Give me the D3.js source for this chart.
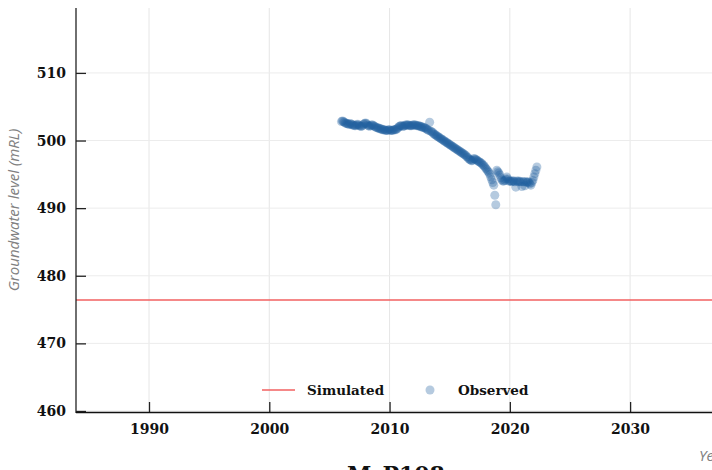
<!DOCTYPE html>
<html><head><meta charset="utf-8">
<script src="https://cdn.jsdelivr.net/npm/d3@7"></script>
<style>html,body{margin:0;padding:0;overflow:hidden;background:#fff}</style>
</head><body>
<script>
const xTicks = [1990, 2000, 2010, 2020, 2030];
const yTicks = [460, 470, 480, 490, 500, 510];
const simulatedLevel = 476.4;
const obsStartYear = 2006;
// monthly observed groundwater level (mRL), Jan 2006 ... Apr 2022
const obs2006 = [502.8, 502.9, 502.8, 502.7, 502.6, 502.5, 502.5, 502.4, 502.4, 502.5, 502.4, 502.3];
const obs2007 = [502.3, 502.2, 502.2, 502.3, 502.4, 502.3, 502.2, 502.1, 502.1, 502.2, 502.4, 502.5];
const obs2008 = [502.6, 502.5, 502.3, 502.2, 502.1, 502.2, 502.3, 502.3, 502.2, 502.1, 502.0, 501.9];
const obs2009 = [501.9, 501.8, 501.8, 501.7, 501.7, 501.6, 501.6, 501.6, 501.5, 501.5, 501.5, 501.6];
const obs2010 = [501.6, 501.5, 501.5, 501.5, 501.6, 501.6, 501.6, 501.7, 501.8, 502.0, 502.1, 502.2];
const obs2011 = [502.2, 502.1, 502.1, 502.2, 502.3, 502.3, 502.3, 502.3, 502.2, 502.2, 502.2, 502.3];
const obs2012 = [502.3, 502.3, 502.3, 502.2, 502.2, 502.2, 502.1, 502.1, 502.0, 502.0, 501.9, 501.9];
const obs2013 = [501.8, 501.7, 501.6, 501.5, 502.7, 501.4, 501.3, 501.2, 501.0, 500.9, 500.8, 500.7];
const obs2014 = [500.6, 500.5, 500.4, 500.3, 500.2, 500.1, 500.0, 499.9, 499.8, 499.7, 499.6, 499.5];
const obs2015 = [499.4, 499.3, 499.2, 499.1, 499.0, 498.9, 498.8, 498.7, 498.6, 498.5, 498.4, 498.3];
const obs2016 = [498.2, 498.1, 498.0, 497.9, 497.8, 497.6, 497.5, 497.3, 497.2, 497.1, 497.0, 497.1];
const obs2017 = [497.3, 497.3, 497.2, 497.1, 497.0, 496.9, 496.8, 496.7, 496.6, 496.4, 496.3, 496.1];
const obs2018 = [495.9, 495.7, 495.5, 495.3, 495.0, 494.6, 494.2, 493.8, 493.4, 491.9, 490.5, 495.6];
const obs2019 = [495.4, 495.2, 494.9, 494.5, 494.2, 494.0, 494.0, 494.1, 494.3, 494.6, 494.3, 494.0];
const obs2020 = [494.0, 494.0, 493.9, 494.0, 494.0, 493.9, 493.1, 494.0, 493.9, 494.0, 493.9, 493.9];
const obs2021 = [493.2, 493.9, 493.9, 493.3, 493.9, 493.8, 493.9, 493.8, 493.6, 493.4, 493.8, 494.1];
const obs2022 = [494.6, 495.1, 495.6, 496.1];
const obsYears = [obs2006, obs2007, obs2008, obs2009, obs2010, obs2011, obs2012, obs2013, obs2014, obs2015, obs2016, obs2017, obs2018, obs2019, obs2020, obs2021, obs2022];

const observed = [];
obsYears.forEach((arr, i) => arr.forEach((v, m) => observed.push({t: obsStartYear + i + m / 12, v})));

const W = 760, H = 500;
const svg = d3.select("body").append("svg").attr("width", W).attr("height", H);

const x = d3.scaleLinear().domain([1983.93, 2040.8]).range([76, 760]);
const y = d3.scaleLinear().domain([459.85, 519.6]).range([412, 8]);

const tickFont = "DejaVu Serif, serif";

// grid
svg.append("g").selectAll("line.vg").data(xTicks).join("line")
  .attr("x1", d => x(d)).attr("x2", d => x(d)).attr("y1", 8).attr("y2", 412)
  .attr("stroke", "#e6e6e6").attr("stroke-width", 1);
svg.append("g").selectAll("line.hg").data(yTicks).join("line")
  .attr("x1", 76).attr("x2", W).attr("y1", d => y(d)).attr("y2", d => y(d))
  .attr("stroke", "#ececec").attr("stroke-width", 1);

// simulated line
svg.append("line").attr("x1", 76).attr("x2", W)
  .attr("y1", y(simulatedLevel)).attr("y2", y(simulatedLevel))
  .attr("stroke", "#f26060").attr("stroke-width", 1.5);

// observed points
svg.append("g").selectAll("circle").data(observed).join("circle")
  .attr("cx", d => x(d.t)).attr("cy", d => y(d.v)).attr("r", 4.5)
  .attr("fill", "#1f5f9e").attr("fill-opacity", 0.33);

// axes
const xAxis = d3.axisBottom(x).tickValues(xTicks).tickFormat(d3.format("d")).tickSizeInner(-10).tickSizeOuter(0).tickPadding(12);
const gx = svg.append("g").attr("transform", "translate(0,412)").call(xAxis);
gx.select(".domain").remove();
gx.selectAll(".tick line").attr("stroke", "#222").attr("stroke-width", 1.3);
gx.selectAll("text").attr("font-family", tickFont).attr("font-weight", "bold").attr("font-size", 14).attr("fill", "#111");

const yAxis = d3.axisLeft(y).tickValues(yTicks).tickSizeInner(-10).tickSizeOuter(0).tickPadding(10);
const gy = svg.append("g").attr("transform", "translate(76,0)").call(yAxis);
gy.select(".domain").remove();
gy.selectAll(".tick line").attr("stroke", "#222").attr("stroke-width", 1.3);
gy.selectAll("text").attr("font-family", tickFont).attr("font-weight", "bold").attr("font-size", 14).attr("fill", "#111");

svg.append("line").attr("x1", 76).attr("x2", 76).attr("y1", 8).attr("y2", 413).attr("stroke", "#222").attr("stroke-width", 1.3);
svg.append("line").attr("x1", 76).attr("x2", W).attr("y1", 412.5).attr("y2", 412.5).attr("stroke", "#111").attr("stroke-width", 1.5);

// axis labels
svg.append("text").attr("transform", "translate(19,210) rotate(-90)").attr("text-anchor", "middle")
  .attr("font-family", "Open Sans, sans-serif").attr("font-style", "italic").attr("font-size", 15).attr("fill", "#808080")
  .text("Groundwater level (mRL)");
svg.append("text").attr("x", 699).attr("y", 461)
  .attr("font-family", "Open Sans, sans-serif").attr("font-style", "italic").attr("font-size", 15).attr("fill", "#808080")
  .text("Year");
svg.append("text").attr("x", 396).attr("y", 482).attr("text-anchor", "middle")
  .attr("font-family", tickFont).attr("font-weight", "bold").attr("font-size", 22).attr("fill", "#111")
  .text("M_P108");

// legend
const lg = svg.append("g");
lg.append("line").attr("x1", 262).attr("x2", 295).attr("y1", 390).attr("y2", 390).attr("stroke", "#f26060").attr("stroke-width", 1.5);
lg.append("text").attr("x", 307).attr("y", 395).attr("font-family", tickFont).attr("font-weight", "bold").attr("font-size", 13.5).attr("fill", "#111").text("Simulated");
lg.append("circle").attr("cx", 430).attr("cy", 390).attr("r", 4.5).attr("fill", "#1f5f9e").attr("fill-opacity", 0.33);
lg.append("text").attr("x", 458).attr("y", 395).attr("font-family", tickFont).attr("font-weight", "bold").attr("font-size", 13.5).attr("fill", "#111").text("Observed");
</script>
</body></html>
